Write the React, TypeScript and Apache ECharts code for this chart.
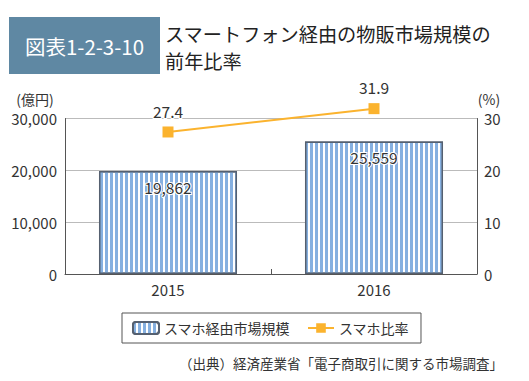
import React, { useEffect, useRef } from "react";
import * as echarts from "echarts";

const categories = ["2015", "2016"];
const marketSize = [19862, 25559];
const smartphoneRatio = [27.4, 31.9];
const leftTicks = { min: 0, max: 30000, interval: 10000 };
const rightTicks = { min: 0, max: 30, interval: 10 };

const FONT = "'Noto Sans CJK JP', 'Noto Sans', sans-serif";

export default function App() {
  const ref = useRef<HTMLDivElement>(null);
  useEffect(() => {
    const chart = echarts.init(ref.current!, undefined, { renderer: "svg" });
    chart.setOption({
      animation: false,
      backgroundColor: "#ffffff",
      textStyle: { fontFamily: FONT },
      grid: { left: 65, right: 52, top: 118.5, bottom: 107, containLabel: false },
      graphic: [
        { type: "rect", shape: { x: 9, y: 17, width: 151, height: 57 }, style: { fill: "#5f88a3" } },
        { type: "text", x: 84.5, y: 46, style: { text: "図表1-2-3-10", fill: "#ffffff", fontSize: 20.5, fontWeight: "normal", fontFamily: FONT, align: "center", verticalAlign: "middle" } },
        { type: "text", x: 165, y: 34, style: { text: "スマートフォン経由の物販市場規模の", fill: "#222", fontSize: 19.2, fontFamily: FONT, align: "left", verticalAlign: "middle" } },
        { type: "text", x: 165, y: 60.5, style: { text: "前年比率", fill: "#222", fontSize: 19.2, fontFamily: FONT, align: "left", verticalAlign: "middle" } },
        { type: "text", x: 35, y: 99, style: { text: "(億円)", fill: "#333", fontSize: 14, fontFamily: FONT, align: "center", verticalAlign: "middle" } },
        { type: "text", x: 489, y: 99, style: { text: "(%)", fill: "#333", fontSize: 14, fontFamily: FONT, align: "center", verticalAlign: "middle" } },
        { type: "text", x: 503, y: 363, style: { text: "（出典）経済産業省「電子商取引に関する市場調査」", fill: "#333", fontSize: 13.5, fontFamily: FONT, align: "right", verticalAlign: "middle" } },
      ],
      legend: {
        left: 122,
        top: 313,
        orient: "horizontal",
        borderColor: "#555",
        borderWidth: 1,
        padding: [8, 12, 8, 10],
        itemGap: 17,
        itemWidth: 26,
        itemHeight: 12,
        textStyle: { fontSize: 14, color: "#333", fontFamily: FONT },
        data: [{ name: "スマホ経由市場規模" }, { name: "スマホ比率" }],
      },
      xAxis: {
        type: "category",
        data: categories,
        axisLine: { lineStyle: { color: "#555", width: 1 } },
        axisTick: { show: true, inside: true, length: 5, lineStyle: { color: "#555" } },
        axisLabel: { fontSize: 15, color: "#333", margin: 8, fontFamily: FONT },
      },
      yAxis: [
        {
          type: "value",
          ...leftTicks,
          axisLine: { show: true, lineStyle: { color: "#555" } },
          axisTick: { show: false },
          splitLine: { lineStyle: { color: "#bbb" } },
          axisLabel: {
            fontSize: 15,
            color: "#333",
            margin: 8,
            fontFamily: FONT,
            formatter: (v: number) => v.toLocaleString("en-US"),
          },
        },
        {
          type: "value",
          ...rightTicks,
          position: "right",
          axisLine: { show: true, lineStyle: { color: "#555" } },
          axisTick: { show: false },
          splitLine: { show: false },
          axisLabel: { fontSize: 15, color: "#333", margin: 7, fontFamily: FONT },
        },
      ],
      series: [
        {
          name: "スマホ経由市場規模",
          type: "bar",
          data: marketSize,
          barWidth: "67%",
          itemStyle: {
            color: "#ffffff",
            borderColor: "#556070",
            borderWidth: 1.5,
            decal: {
              symbol: "rect",
              symbolSize: 1,
              color: "#86b0e0",
              dashArrayX: [3, 1.5],
              dashArrayY: [6, 0],
              rotation: 0,
            },
          },
          label: {
            show: true,
            position: "insideTop",
            distance: 8,
            fontSize: 15.5,
            color: "#333",
            textBorderColor: "#fff",
            textBorderWidth: 2,
            fontFamily: FONT,
            formatter: (p: any) => Number(p.value).toLocaleString("en-US"),
          },
          z: 2,
        },
        {
          name: "スマホ比率",
          type: "line",
          yAxisIndex: 1,
          data: smartphoneRatio,
          clip: false,
          symbol: "rect",
          symbolSize: 11,
          itemStyle: { color: "#fbb32e" },
          lineStyle: { color: "#fbb32e", width: 2 },
          label: {
            show: true,
            position: "top",
            distance: 8,
            fontSize: 15.5,
            color: "#333",
            textBorderColor: "#fff",
            textBorderWidth: 2,
            fontFamily: FONT,
          },
          z: 3,
        },
      ],
    });
    return () => chart.dispose();
  }, []);
  return <div ref={ref} style={{ position: "fixed", left: 0, top: 0, width: 529, height: 381 }} />;
}
